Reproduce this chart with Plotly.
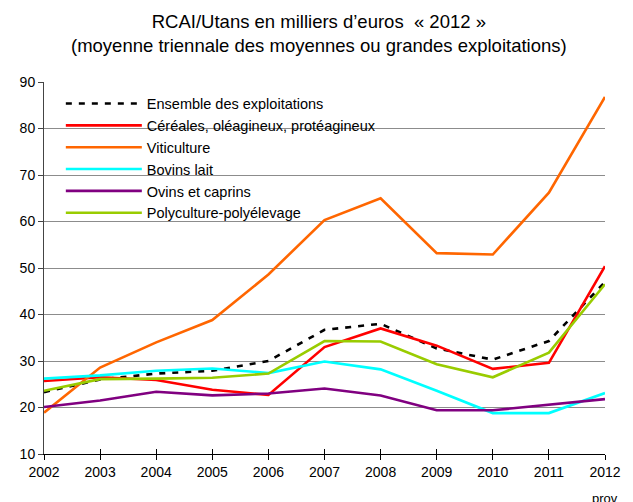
import plotly.graph_objects as go

years = [2002, 2003, 2004, 2005, 2006, 2007, 2008, 2009, 2010, 2011, 2012]
tick_labels = ["2002", "2003", "2004", "2005", "2006", "2007", "2008", "2009", "2010", "2011", "2012"]

ensemble = [23.3, 26.0, 27.3, 27.9, 30.0, 36.7, 38.0, 32.7, 30.3, 34.3, 47.0]
cereales = [25.7, 26.5, 25.9, 23.8, 22.7, 33.0, 37.0, 33.3, 28.3, 29.6, 50.4]
viticulture = [18.9, 28.6, 34.0, 38.8, 48.6, 60.3, 65.0, 53.2, 52.9, 66.2, 86.8]
bovins = [26.2, 26.9, 27.9, 28.4, 27.4, 29.9, 28.2, 23.6, 18.8, 18.8, 23.1]
ovins = [20.1, 21.5, 23.4, 22.6, 23.0, 24.1, 22.6, 19.4, 19.4, 20.6, 21.8]
poly = [23.6, 26.1, 26.2, 26.4, 27.3, 34.3, 34.2, 29.3, 26.5, 31.8, 46.5]

series = [
    ("Ensemble des exploitations", ensemble, "#000000", "6px,7px"),
    ("Céréales, oléagineux, protéagineux", cereales, "#FF0000", "solid"),
    ("Viticulture", viticulture, "#FF6600", "solid"),
    ("Bovins lait", bovins, "#00FFFF", "solid"),
    ("Ovins et caprins", ovins, "#800080", "solid"),
    ("Polyculture-polyélevage", poly, "#99CC00", "solid"),
]

FONT = "Liberation Sans, Arial, sans-serif"

fig = go.Figure()
for name, vals, color, dash in series:
    fig.add_trace(go.Scatter(
        x=years, y=vals, name=name, mode="lines",
        line=dict(color=color, width=2.6, dash=dash),
    ))

# invisible trace on a second x-axis to draw the upward half of the cross ticks
fig.add_trace(go.Scatter(x=[years[0]], y=[None], xaxis="x2", showlegend=False, hoverinfo="skip"))

fig.update_layout(
    width=633, height=502,
    margin=dict(l=43.5, r=19, t=82, b=48),
    paper_bgcolor="white", plot_bgcolor="white",
    font=dict(family=FONT, size=14, color="#000000"),
    xaxis=dict(
        range=[2002, 2012], tickvals=years, ticktext=tick_labels,
        showgrid=False, zeroline=False,
        showline=True, linecolor="#000000", linewidth=1,
        ticks="outside", ticklen=5, tickcolor="#000000",
        tickfont=dict(size=14), fixedrange=True,
    ),
    xaxis2=dict(
        range=[2002, 2012], tickvals=years, overlaying="x", side="bottom",
        showticklabels=False, showgrid=False, zeroline=False,
        ticks="inside", ticklen=5, tickcolor="#000000", fixedrange=True,
    ),
    yaxis=dict(
        range=[10, 90], tickvals=[10, 20, 30, 40, 50, 60, 70, 80, 90],
        showgrid=True, gridcolor="#8C8C8C", gridwidth=1, zeroline=False,
        showline=True, linecolor="#444444", linewidth=1,
        ticks="outside", ticklen=5, tickcolor="#444444",
        tickfont=dict(size=14), fixedrange=True,
    ),
    legend=dict(
        x=0.03, y=0.985, xanchor="left", yanchor="top",
        bgcolor="rgba(0,0,0,0)", borderwidth=0,
        font=dict(family=FONT, size=14.5),
        itemwidth=76, tracegroupgap=0,
    ),
    showlegend=True,
)

# white panel behind the legend: hides gridlines but stays under the lines
fig.add_shape(
    type="rect", xref="paper", yref="paper",
    x0=0.003, x1=(392 - 43.5) / 570.5, y0=1 - (218 - 82) / 372, y1=1 - (84 - 82) / 372,
    fillcolor="white", line=dict(width=0), layer="between",
)

fig.add_annotation(
    text="RCAI/Utans en milliers d’euros  « 2012 »<br>(moyenne triennale des moyennes ou grandes exploitations)",
    xref="paper", yref="paper", x=0.5, y=1 + (82 - 33.5) / 372,
    xanchor="center", yanchor="middle", showarrow=False, align="center",
    xshift=-6,
    font=dict(family=FONT, size=18.5, color="#000000"),
)

fig.add_annotation(
    text="prov", xref="paper", yref="paper", x=1.0, y=0, xshift=0, yshift=-35,
    showarrow=False, xanchor="center", yanchor="top",
    font=dict(family=FONT, size=13, color="#000000"),
)

fig.write_html(
    "out.html",
    config={"displayModeBar": False},
    post_script="document.body.style.margin='0';document.body.style.overflow='hidden';",
)
